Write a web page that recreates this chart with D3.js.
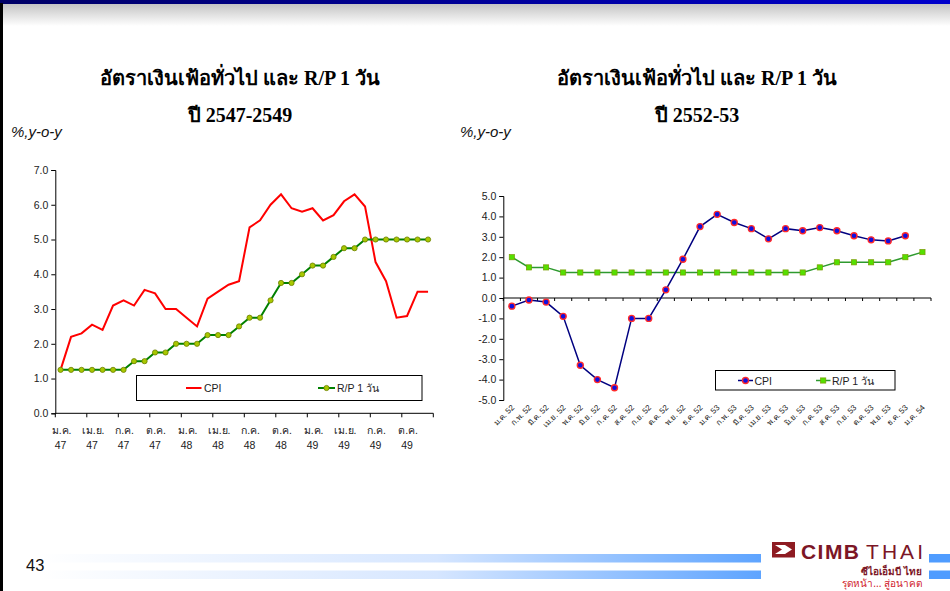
<!DOCTYPE html>
<html>
<head>
<meta charset="utf-8">
<script src="https://cdn.jsdelivr.net/npm/d3@7"></script>
<style>
  html, body { margin: 0; padding: 0; background: #fff; }
  svg { display: block; }
  .tick-label { font-family: Arial, "Liberation Sans", sans-serif; font-size: 10.5px; fill: #222; }
  .title { font-family: "Times New Roman", "Liberation Serif", serif; font-weight: bold; font-size: 20px; fill: #000; }
  .unit { font-family: Arial, "Liberation Sans", sans-serif; font-style: italic; font-size: 15px; fill: #111; }
</style>
</head>
<body>
<svg id="page" width="950" height="591"></svg>
<script>
// ---- data: inflation (CPI) and 1-day repurchase rate, 2547-2549 ----
const monthsA = ["ม.ค.","ก.พ.","มี.ค.","เม.ย.","พ.ค.","มิ.ย.","ก.ค.","ส.ค.","ก.ย.","ต.ค.","พ.ย.","ธ.ค."];
const yearsA = ["47","48","49"];
const cpiA = [1.25,2.2,2.3,2.55,2.4,3.1,3.25,3.1,3.55,3.45,3.0,3.0,
              2.75,2.5,3.3,3.5,3.7,3.8,5.35,5.55,6.0,6.3,5.9,5.8,
              5.9,5.55,5.7,6.1,6.3,5.95,4.35,3.8,2.75,2.8,3.5,3.5];
const rpA = [1.25,1.25,1.25,1.25,1.25,1.25,1.25,1.5,1.5,1.75,1.75,2.0,
             2.0,2.0,2.25,2.25,2.25,2.5,2.75,2.75,3.25,3.75,3.75,4.0,
             4.25,4.25,4.5,4.75,4.75,5.0,5.0,5.0,5.0,5.0,5.0,5.0];
const yTicksA = [0,1,2,3,4,5,6,7];

// ---- data: inflation (CPI) and 1-day repurchase rate, 2552-53 ----
const catsB = ["ม.ค. 52","ก.พ. 52","มี.ค. 52","เม.ย. 52","พ.ค. 52","มิ.ย. 52","ก.ค. 52","ส.ค. 52","ก.ย. 52","ต.ค. 52","พ.ย. 52","ธ.ค. 52",
               "ม.ค. 53","ก.พ. 53","มี.ค. 53","เม.ย. 53","พ.ค. 53","มิ.ย. 53","ก.ค. 53","ส.ค. 53","ก.ย. 53","ต.ค. 53","พ.ย. 53","ธ.ค. 53","ม.ค. 54"];
const cpiB = [-0.4,-0.1,-0.2,-0.9,-3.3,-4.0,-4.4,-1.0,-1.0,0.4,1.9,3.5,
              4.1,3.7,3.4,2.9,3.4,3.3,3.45,3.3,3.05,2.85,2.8,3.05];
const rpB = [2.0,1.5,1.5,1.25,1.25,1.25,1.25,1.25,1.25,1.25,1.25,1.25,
             1.25,1.25,1.25,1.25,1.25,1.25,1.5,1.75,1.75,1.75,1.75,2.0,2.25];
const yTicksB = [-5,-4,-3,-2,-1,0,1,2,3,4,5];

const titleLine1 = "อัตราเงินเฟ้อทั่วไป และ R/P 1 วัน";
const titleA = "ปี 2547-2549";
const titleB = "ปี 2552-53";
const unitLabel = "%,y-o-y";
const legendCPI = "CPI";
const legendRP = "R/P 1 วัน";

const svg = d3.select("#page");
const defs = svg.append("defs");

// ---- slide frame ----
const topGrad = defs.append("linearGradient").attr("id", "topbar");
topGrad.append("stop").attr("offset", "0%").attr("stop-color", "#000066");
topGrad.append("stop").attr("offset", "100%").attr("stop-color", "#0000cc");
const shade = defs.append("linearGradient").attr("id", "shade").attr("x1", 0).attr("y1", 0).attr("x2", 0).attr("y2", 1);
shade.append("stop").attr("offset", "0%").attr("stop-color", "#c4c4c4");
shade.append("stop").attr("offset", "100%").attr("stop-color", "#ffffff");
const footGrad = defs.append("linearGradient").attr("id", "footbar");
footGrad.append("stop").attr("offset", "0%").attr("stop-color", "#ffffff");
footGrad.append("stop").attr("offset", "55%").attr("stop-color", "#d6e6ff");
footGrad.append("stop").attr("offset", "100%").attr("stop-color", "#5ea4ff");

svg.append("rect").attr("x", 0).attr("y", 4).attr("width", 950).attr("height", 22).attr("fill", "url(#shade)");
svg.append("rect").attr("x", 0).attr("y", 0).attr("width", 950).attr("height", 4).attr("fill", "url(#topbar)");
svg.append("rect").attr("x", 0).attr("y", 3).attr("width", 3).attr("height", 588).attr("fill", "#000");

// footer
[554, 570.5].forEach(y => {
  svg.append("rect").attr("x", 40).attr("y", y).attr("width", 721).attr("height", 8.5).attr("fill", "url(#footbar)");
  svg.append("rect").attr("x", 929).attr("y", y).attr("width", 21).attr("height", 8.5).attr("fill", "#4f9cff");
});
svg.append("text").attr("x", 26).attr("y", 570.5)
  .style("font-family", "Arial, 'Liberation Sans', sans-serif").style("font-size", "16.5px").style("fill", "#111").text("43");

// logo
const logo = svg.append("g");
logo.append("rect").attr("x", 764).attr("y", 534).attr("width", 164).attr("height", 57).attr("fill", "#ffffff");
logo.append("rect").attr("x", 772).attr("y", 542).attr("width", 23).attr("height", 15.5).attr("fill", "#8e1b22");
logo.append("path").attr("d", "M775,545 L785,545 L792,549.5 L785,554 L775,554 L782,549.5 Z").attr("fill", "#fff");
const brand = logo.append("text").attr("y", 558.5)
  .style("font-family", "Arial, 'Liberation Sans', sans-serif").style("font-size", "21px").style("fill", "#7c1626");
brand.append("tspan").attr("x", 801).attr("font-weight", "bold").attr("textLength", 58).attr("lengthAdjust", "spacing").text("CIMB");
brand.append("tspan").attr("x", 866).attr("textLength", 57).attr("lengthAdjust", "spacing").text("THAI");
logo.append("text").attr("x", 922).attr("y", 574.5).attr("text-anchor", "end")
  .style("font-family", "'Noto Sans', sans-serif").style("font-size", "10px").style("font-weight", "bold").style("fill", "#7c1626")
  .text("ซีไอเอ็มบี ไทย");
logo.append("text").attr("x", 922).attr("y", 587).attr("text-anchor", "end")
  .style("font-family", "'Noto Sans', sans-serif").style("font-size", "10px").style("fill", "#d0202a")
  .text("รุดหน้า... สู่อนาคต");

// ---- titles ----
function titles(cx, line2, unitX) {
  svg.append("text").attr("class", "title").attr("x", cx).attr("y", 85).attr("text-anchor", "middle").text(titleLine1);
  svg.append("text").attr("class", "title").attr("x", cx).attr("y", 122).attr("text-anchor", "middle").text(line2);
  svg.append("text").attr("class", "unit").attr("x", unitX).attr("y", 137).text(unitLabel);
}
titles(240, titleA, 11);
titles(697, titleB, 460);

// ---- chart A ----
{
  const idx = d3.range(cpiA.length);
  const x = d3.scaleBand().domain(idx).range([55.3, 433.3]);
  const y = d3.scaleLinear().domain([0, 7]).range([413.3, 170]);
  const cx = i => x(i) + x.bandwidth() / 2;
  const g = svg.append("g");

  const yAxis = d3.axisLeft(y).tickValues(yTicksA).tickFormat(d3.format(".1f")).tickSize(4).tickPadding(3);
  const ya = g.append("g").attr("transform", `translate(${x.range()[0]},0)`).call(yAxis);
  ya.select(".domain").attr("stroke", "#000");
  ya.selectAll(".tick text").attr("class", "tick-label");
  ya.attr("font-size", null).attr("font-family", null);

  // category axis: tick marks every quarter
  g.append("line").attr("x1", x.range()[0]).attr("x2", x.range()[1]).attr("y1", y(0)).attr("y2", y(0)).attr("stroke", "#000");
  const quarterStarts = idx.filter(i => i % 3 === 0).concat([idx.length]);
  g.selectAll(".qtick").data(quarterStarts).join("line")
    .attr("x1", i => i < idx.length ? x(i) : x.range()[1]).attr("x2", i => i < idx.length ? x(i) : x.range()[1])
    .attr("y1", y(0)).attr("y2", y(0) + 4).attr("stroke", "#000");
  const labelIdx = idx.filter(i => i % 3 === 0);
  const lab = g.selectAll(".xl").data(labelIdx).join("text").attr("class", "tick-label")
    .attr("text-anchor", "middle");
  lab.append("tspan").attr("x", i => cx(i) + 1).attr("y", 434).text(i => monthsA[i % 12]);
  lab.append("tspan").attr("x", i => cx(i)).attr("y", 448.5).text(i => yearsA[Math.floor(i / 12)]);

  const line = d3.line().x((d, i) => cx(i)).y(d => y(d));
  g.append("path").datum(cpiA).attr("d", line).attr("fill", "none").attr("stroke", "#ff0000").attr("stroke-width", 2);
  g.append("path").datum(rpA).attr("d", line).attr("fill", "none").attr("stroke", "#008000").attr("stroke-width", 2);
  g.selectAll(".rpm").data(rpA).join("circle")
    .attr("cx", (d, i) => cx(i)).attr("cy", d => y(d)).attr("r", 2.6)
    .attr("fill", "#a8c800").attr("stroke", "#6b7d00").attr("stroke-width", 0.8);

  // legend
  const lg = g.append("g");
  lg.append("rect").attr("x", 136.5).attr("y", 375.5).attr("width", 285.5).attr("height", 25)
    .attr("fill", "#fff").attr("stroke", "#000").attr("stroke-width", 1);
  lg.append("line").attr("x1", 186).attr("x2", 201.5).attr("y1", 388).attr("y2", 388).attr("stroke", "#ff0000").attr("stroke-width", 2);
  lg.append("text").attr("class", "tick-label").attr("x", 204).attr("y", 392).text(legendCPI);
  lg.append("line").attr("x1", 318).attr("x2", 335).attr("y1", 388).attr("y2", 388).attr("stroke", "#008000").attr("stroke-width", 2);
  lg.append("circle").attr("cx", 326.5).attr("cy", 388).attr("r", 2.6).attr("fill", "#a8c800").attr("stroke", "#6b7d00").attr("stroke-width", 0.8);
  lg.append("text").attr("class", "tick-label").attr("x", 337).attr("y", 392).text(legendRP);
}

// ---- chart B ----
{
  const x = d3.scaleBand().domain(catsB).range([503.3, 931]);
  const y = d3.scaleLinear().domain([-5, 5]).range([400, 196]);
  const cx = c => x(c) + x.bandwidth() / 2;
  const g = svg.append("g");

  const yAxis = d3.axisLeft(y).tickValues(yTicksB).tickFormat(d => d3.format(".1f")(d).replace("−", "-")).tickSize(4).tickPadding(3);
  const ya = g.append("g").attr("transform", `translate(${x.range()[0]},0)`).call(yAxis);
  ya.select(".domain").attr("stroke", "#000");
  ya.selectAll(".tick text").attr("class", "tick-label");
  ya.attr("font-size", null).attr("font-family", null);

  // category axis crosses at zero
  g.append("line").attr("x1", x.range()[0]).attr("x2", x.range()[1]).attr("y1", y(0)).attr("y2", y(0)).attr("stroke", "#000");
  g.selectAll(".ct").data(catsB.concat(["end"])).join("line")
    .attr("x1", c => c === "end" ? x.range()[1] : x(c)).attr("x2", c => c === "end" ? x.range()[1] : x(c))
    .attr("y1", y(0)).attr("y2", y(0) + 3).attr("stroke", "#000");
  g.selectAll(".xl").data(catsB).join("text").attr("class", "tick-label")
    .style("font-size", "8px")
    .attr("text-anchor", "end")
    .attr("transform", c => `translate(${cx(c) + 3},${408}) rotate(-45)`)
    .text(c => c);

  const lineB = d3.line().x((d, i) => cx(catsB[i])).y(d => y(d));
  g.append("path").datum(rpB).attr("d", lineB).attr("fill", "none").attr("stroke", "#2e9a2e").attr("stroke-width", 1.5);
  g.selectAll(".rpm").data(rpB).join("rect")
    .attr("x", (d, i) => cx(catsB[i]) - 2.6).attr("y", d => y(d) - 2.6).attr("width", 5.2).attr("height", 5.2)
    .attr("fill", "#55e000").attr("stroke", "#7a9a00").attr("stroke-width", 0.7);
  g.append("path").datum(cpiB).attr("d", lineB).attr("fill", "none").attr("stroke", "#000080").attr("stroke-width", 1.5);
  g.selectAll(".cpim").data(cpiB).join("circle")
    .attr("cx", (d, i) => cx(catsB[i])).attr("cy", d => y(d)).attr("r", 3)
    .attr("fill", "#1010e0").attr("stroke", "#ff2a2a").attr("stroke-width", 1.4);

  // legend
  const lg = g.append("g");
  lg.append("rect").attr("x", 715.5).attr("y", 370.5).attr("width", 179.5).attr("height", 19.5)
    .attr("fill", "#fff").attr("stroke", "#000").attr("stroke-width", 1);
  lg.append("line").attr("x1", 738).attr("x2", 753).attr("y1", 380.5).attr("y2", 380.5).attr("stroke", "#000080").attr("stroke-width", 1.5);
  lg.append("circle").attr("cx", 745.5).attr("cy", 380.5).attr("r", 3).attr("fill", "#1010e0").attr("stroke", "#ff2a2a").attr("stroke-width", 1.4);
  lg.append("text").attr("class", "tick-label").attr("x", 754.5).attr("y", 384.5).text(legendCPI);
  lg.append("line").attr("x1", 816).attr("x2", 830.5).attr("y1", 380.5).attr("y2", 380.5).attr("stroke", "#2e9a2e").attr("stroke-width", 1.5);
  lg.append("rect").attr("x", 820.6).attr("y", 377.9).attr("width", 5.2).attr("height", 5.2).attr("fill", "#55e000").attr("stroke", "#7a9a00").attr("stroke-width", 0.7);
  lg.append("text").attr("class", "tick-label").attr("x", 832).attr("y", 384.5).text(legendRP);
}
</script>
</body>
</html>
